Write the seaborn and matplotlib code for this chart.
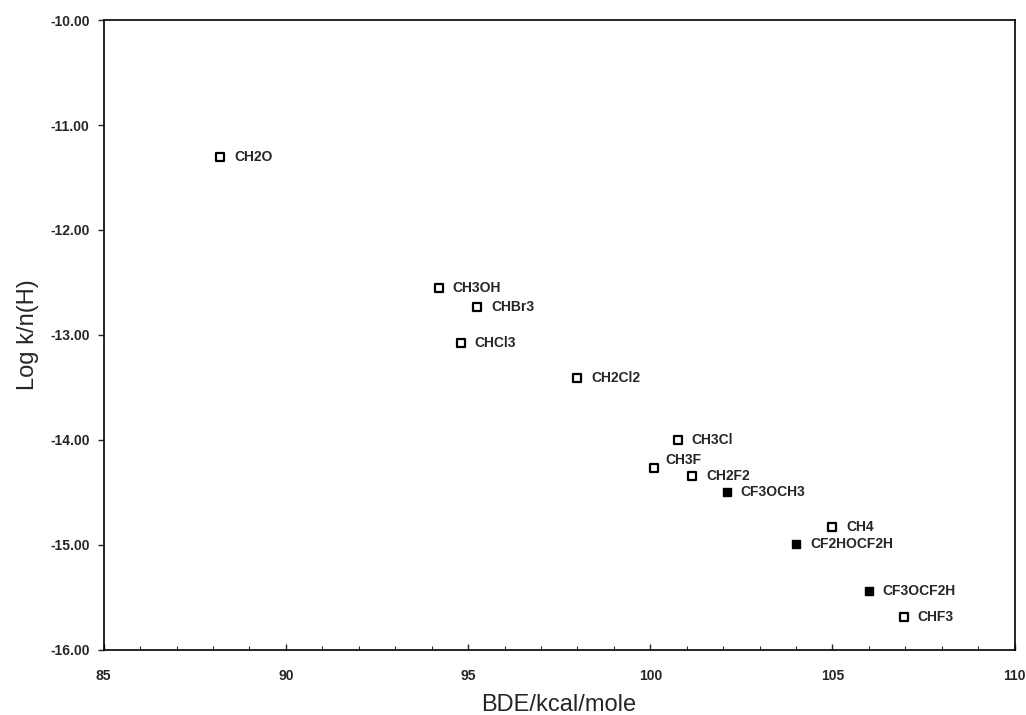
import matplotlib
matplotlib.use("Agg")
import matplotlib.pyplot as plt
from matplotlib.ticker import MultipleLocator, FormatStrFormatter
import seaborn as sns
import pandas as pd

compounds = ["CH2O", "CH3OH", "CHBr3", "CHCl3", "CH2Cl2", "CH3Cl", "CH3F",
             "CH2F2", "CF3OCH3", "CH4", "CF2HOCF2H", "CF3OCF2H", "CHF3"]
bde = [88.2, 94.2, 95.25, 94.8, 98.0, 100.75, 100.1,
       101.15, 102.1, 105.0, 104.0, 106.0, 106.95]
log_k = [-11.30, -12.55, -12.73, -13.08, -13.41, -14.00, -14.27,
         -14.34, -14.50, -14.83, -14.99, -15.44, -15.69]
ether = [False, False, False, False, False, False, False,
         False, True, False, True, True, False]

df = pd.DataFrame({"compound": compounds, "bde": bde, "logk": log_k, "ether": ether})

sns.set_style("white")
plt.rcParams["font.family"] = ["Liberation Sans", "DejaVu Sans"]

fig = plt.figure(figsize=(10.26, 7.15), dpi=100)
ax = fig.add_axes([0.101, 0.091, 0.888, 0.881])

sns.scatterplot(data=df[~df["ether"]], x="bde", y="logk", marker="s", s=30,
                facecolor="white", edgecolor="black", linewidth=1.6, ax=ax, zorder=3)
sns.scatterplot(data=df[df["ether"]], x="bde", y="logk", marker="s", s=38,
                color="black", edgecolor="black", linewidth=1.0, ax=ax, zorder=3)

# label text sits to the right of each marker; CH3F is lifted above its marker
label_offsets = {"CH3F": (8, 6)}
for name, x, y in zip(compounds, bde, log_k):
    dx, dy = label_offsets.get(name, (10, 0))
    ax.annotate(name, (x, y), xytext=(dx, dy), textcoords="offset points",
                ha="left", va="center", fontsize=10, fontweight="bold")

ax.set_xlim(85, 110)
ax.set_ylim(-16, -10)
ax.xaxis.set_major_locator(MultipleLocator(5))
ax.xaxis.set_minor_locator(MultipleLocator(1))
ax.yaxis.set_major_locator(MultipleLocator(1))
ax.yaxis.set_major_formatter(FormatStrFormatter("%.2f"))

for side in ["left", "bottom", "top", "right"]:
    ax.spines[side].set_visible(True)
    ax.spines[side].set_color("black")
    ax.spines[side].set_linewidth(1.2)

ax.tick_params(axis="y", which="major", direction="out", length=4, width=1,
               left=True, labelsize=10, pad=6)
ax.tick_params(axis="x", which="major", direction="in", length=4, width=1,
               bottom=True, labelsize=10, pad=14)
ax.tick_params(axis="x", which="minor", direction="in", length=3, width=0.8,
               bottom=True)
for lbl in ax.get_xticklabels() + ax.get_yticklabels():
    lbl.set_fontweight("bold")

ax.set_xlabel("BDE/kcal/mole", fontsize=17, labelpad=8)
ax.set_ylabel("Log k/n(H)", fontsize=17, labelpad=8)

fig.savefig("out.png", dpi=100)
